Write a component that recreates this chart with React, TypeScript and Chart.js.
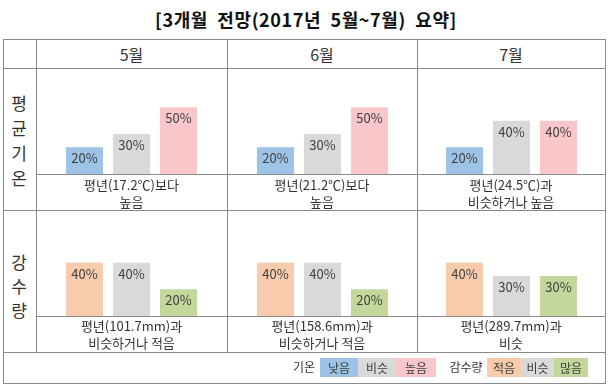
import React, { useEffect, useRef } from "react";
import { Chart, registerables } from "chart.js";

Chart.register(...registerables);

const months = ["5월", "6월", "7월"];
const tempCategories = ["낮음", "비슷", "높음"];
const precipCategories = ["적음", "비슷", "많음"];
const tempValues = [
  [20, 30, 50],
  [20, 30, 50],
  [20, 40, 40],
];
const precipValues = [
  [40, 40, 20],
  [40, 40, 20],
  [40, 30, 30],
];
const tempDesc = [
  ["평년(17.2℃)보다", "높음"],
  ["평년(21.2℃)보다", "높음"],
  ["평년(24.5℃)과", "비슷하거나 높음"],
];
const precipDesc = [
  ["평년(101.7mm)과", "비슷하거나 적음"],
  ["평년(158.6mm)과", "비슷하거나 적음"],
  ["평년(289.7mm)과", "비슷"],
];
const tempColors = ["#9DC3E6", "#D9D9D9", "#F9C6CA"];
const precipColors = ["#F8CBAD", "#D9D9D9", "#C4D79B"];

const FONT = '"Noto Sans CJK KR", "Noto Sans", sans-serif';
const LINE = "#8a8a8a";

// layout
const colEdges = [36, 227, 417, 605];
const tempBase = 174;
const precipBase = 316;
const CW = 141;
const CH = 80;

const labelPlugin = {
  id: "barLabels",
  afterDatasetsDraw(chart: any) {
    const ctx = chart.ctx;
    const meta = chart.getDatasetMeta(0);
    const data = chart.data.datasets[0].data;
    ctx.save();
    ctx.font = `13px ${FONT}`;
    ctx.fillStyle = "#404040";
    ctx.textAlign = "center";
    ctx.textBaseline = "middle";
    meta.data.forEach((bar: any, i: number) => {
      ctx.fillText(`${data[i]}%`, bar.x, bar.y + 11);
    });
    ctx.restore();
  },
};

function MiniBar({ labels, values, colors, left, top }: any) {
  const ref = useRef<HTMLCanvasElement>(null);
  useEffect(() => {
    if (!ref.current) return;
    const chart = new Chart(ref.current, {
      type: "bar",
      data: {
        labels,
        datasets: [
          {
            data: values,
            backgroundColor: colors,
            borderWidth: 0,
            categoryPercentage: 1,
            barPercentage: 0.79,
          },
        ],
      },
      options: {
        responsive: false,
        animation: false,
        layout: { padding: 0 },
        plugins: { legend: { display: false }, tooltip: { enabled: false } },
        scales: {
          x: { display: false },
          y: { display: false, min: 0, max: 60 },
        },
      },
      plugins: [labelPlugin],
    });
    return () => chart.destroy();
  }, []);
  return (
    <canvas
      ref={ref}
      width={CW}
      height={CH}
      style={{ position: "absolute", left, top, width: CW, height: CH }}
    />
  );
}

function HLine({ x1, x2, y }: any) {
  return <div style={{ position: "absolute", left: x1, top: y, width: x2 - x1 + 1, height: 1, background: LINE }} />;
}
function VLine({ x, y1, y2 }: any) {
  return <div style={{ position: "absolute", left: x, top: y1, width: 1, height: y2 - y1 + 1, background: LINE }} />;
}

function Text({ cx, cy, children, size, bold, color, spacing }: any) {
  return (
    <div
      style={{
        position: "absolute",
        left: cx - 200,
        top: cy - 12,
        width: 400,
        height: 24,
        lineHeight: "24px",
        textAlign: "center",
        fontSize: size,
        fontWeight: bold ? 700 : 400,
        color: color || "#333",
        whiteSpace: "pre",
        letterSpacing: spacing || 0,
      }}
    >
      {children}
    </div>
  );
}

function LegendBox({ x1, x2, color, label }: any) {
  return (
    <div
      style={{
        position: "absolute",
        left: x1,
        top: 358,
        width: x2 - x1,
        height: 19,
        background: color,
        fontSize: 12,
        lineHeight: "19px",
        textAlign: "center",
        color: "#404040",
      }}
    >
      {label}
    </div>
  );
}

export default function App() {
  const centers = [0, 1, 2].map((i) => (colEdges[i] + colEdges[i + 1]) / 2);
  return (
    <div
      style={{
        position: "absolute",
        left: 0,
        top: 0,
        width: 609,
        height: 387,
        background: "#fff",
        fontFamily: FONT,
        overflow: "hidden",
      }}
    >
      <Text cx={306} cy={19} size={18} bold color="#111" spacing={0.6}>
        {"[3개월  전망(2017년  5월~7월)  요약]"}
      </Text>

      {/* grid */}
      <HLine x1={3} x2={605} y={39} />
      <HLine x1={3} x2={605} y={68} />
      <HLine x1={36} x2={605} y={tempBase} />
      <HLine x1={3} x2={605} y={210} />
      <HLine x1={36} x2={605} y={precipBase} />
      <HLine x1={3} x2={605} y={352} />
      <HLine x1={3} x2={605} y={383} />
      <VLine x={3} y1={39} y2={383} />
      <VLine x={605} y1={39} y2={383} />
      <VLine x={36} y1={39} y2={352} />
      <VLine x={227} y1={39} y2={352} />
      <VLine x={417} y1={39} y2={352} />

      {months.map((m, i) => (
        <Text key={m} cx={centers[i]} cy={54} size={16}>
          {m}
        </Text>
      ))}

      {["평", "균", "기", "온"].map((c, i) => (
        <Text key={"t" + i} cx={19} cy={103 + i * 25} size={17}>
          {c}
        </Text>
      ))}
      {["강", "수", "량"].map((c, i) => (
        <Text key={"p" + i} cx={19} cy={262 + i * 24} size={17}>
          {c}
        </Text>
      ))}

      {months.map((m, i) => (
        <MiniBar
          key={"tc" + i}
          labels={tempCategories}
          values={tempValues[i]}
          colors={tempColors}
          left={Math.round(centers[i] - CW / 2)}
          top={tempBase - CH}
        />
      ))}
      {months.map((m, i) => (
        <MiniBar
          key={"pc" + i}
          labels={precipCategories}
          values={precipValues[i]}
          colors={precipColors}
          left={Math.round(centers[i] - CW / 2)}
          top={precipBase - CH}
        />
      ))}

      {tempDesc.map((d, i) => (
        <React.Fragment key={"td" + i}>
          <Text cx={centers[i]} cy={185} size={13}>{d[0]}</Text>
          <Text cx={centers[i]} cy={202} size={13}>{d[1]}</Text>
        </React.Fragment>
      ))}
      {precipDesc.map((d, i) => (
        <React.Fragment key={"pd" + i}>
          <Text cx={centers[i]} cy={326} size={13}>{d[0]}</Text>
          <Text cx={centers[i]} cy={343} size={13}>{d[1]}</Text>
        </React.Fragment>
      ))}

      {/* legend */}
      <Text cx={304} cy={367} size={12}>기온</Text>
      <LegendBox x1={320} x2={358} color={tempColors[0]} label={tempCategories[0]} />
      <LegendBox x1={358} x2={396} color={tempColors[1]} label={tempCategories[1]} />
      <LegendBox x1={396} x2={436} color={tempColors[2]} label={tempCategories[2]} />
      <Text cx={466} cy={367} size={12}>감수량</Text>
      <LegendBox x1={487} x2={521} color={precipColors[0]} label={precipCategories[0]} />
      <LegendBox x1={521} x2={554} color={precipColors[1]} label={precipCategories[1]} />
      <LegendBox x1={554} x2={588} color={precipColors[2]} label={precipCategories[2]} />
    </div>
  );
}
